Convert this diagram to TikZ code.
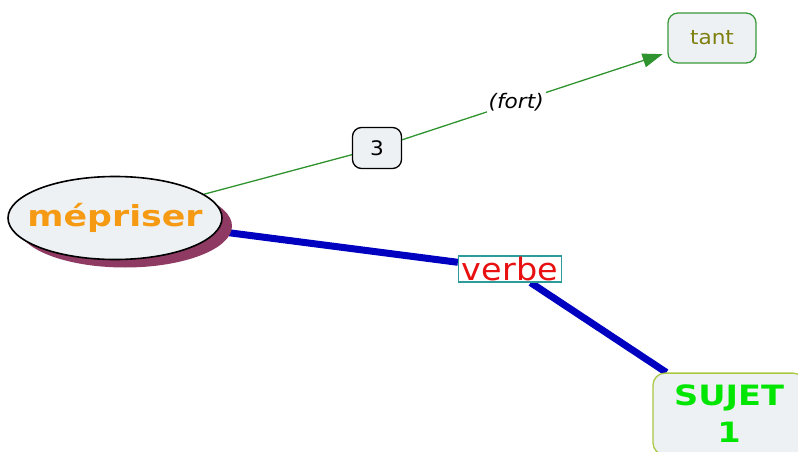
\documentclass[tikz,border=0pt]{standalone}
\usepackage{fontspec}
\setmainfont{DejaVu Sans}[FakeStretch=1.08, BoldFeatures={FakeStretch=1.2}]
\usetikzlibrary{arrows.meta, shapes.geometric, shadows, backgrounds}
\definecolor{conceptfill}{HTML}{EDF1F4}
\definecolor{shadowplum}{HTML}{8E3A62}
\definecolor{mepriserorange}{HTML}{F59A12}
\definecolor{tantolive}{HTML}{7F7F10}
\definecolor{tantgreen}{HTML}{3A9A3A}
\definecolor{linkgreen}{HTML}{2F932F}
\definecolor{linkblue}{HTML}{0000C0}
\definecolor{verbeteal}{HTML}{2E9A9A}
\definecolor{verbered}{HTML}{E81010}
\definecolor{sujetborder}{HTML}{A8C840}
\definecolor{sujetgreen}{HTML}{00E600}

\begin{document}
\begin{tikzpicture}[x=1pt, y=-1pt,
    concept/.style={draw, fill=conceptfill, line width=1.3pt, align=center},
    greenlink/.style={draw=linkgreen, line width=1.3pt},
    bluelink/.style={draw=linkblue, line width=7pt}]
    \useasboundingbox (0,0) rectangle (798,452);

    % Concepts
    \node[concept, ellipse, draw=black, line width=1.6pt, inner sep=0pt,
          minimum width=214pt, minimum height=83pt,
          drop shadow={shadow xshift=10pt, shadow yshift=-8pt, fill=shadowplum, opacity=1},
          label={[text=mepriserorange, font=\fontsize{29}{34}\selectfont\bfseries]center:mépriser}]
          (mepriser) at (115,218) {};
    \node[concept, draw=tantgreen, rounded corners=10pt, minimum width=88pt, minimum height=50pt,
          text=tantolive, font=\fontsize{20}{24}\selectfont]
          (tant) at (712,38) {tant};
    \node[concept, draw=sujetborder, rounded corners=12pt, minimum width=152pt, inner sep=12pt,
          text=sujetgreen, font=\fontsize{28}{37}\selectfont\bfseries]
          (sujet) at (729,414) {SUJET\\1};

    % Linking phrases
    \node[concept, draw=black, rounded corners=9pt, minimum width=49pt, minimum height=41pt,
          font=\fontsize{20}{24}\selectfont]
          (n3) at (377,148) {3};
    \node[draw=verbeteal, line width=1.3pt, fill=white, minimum width=103pt, minimum height=26pt,
          inner sep=0.5pt, text=verbered, font=\fontsize{31}{34}\selectfont]
          (verbe) at (510,269) {verbe};

    % Connectors
    \begin{scope}[on background layer]
        \draw[greenlink] (mepriser) -- (n3);
        \draw[greenlink, -{Triangle[length=20pt, width=14pt]}, shorten >=5pt] (n3) --
            node[pos=0.43, fill=white, inner sep=2pt, font=\fontsize{20}{24}\selectfont\itshape] {(fort)} (tant);
        \draw[bluelink] (mepriser) -- (verbe);
        \draw[bluelink] (verbe) -- (sujet);
    \end{scope}
\end{tikzpicture}
\end{document}
